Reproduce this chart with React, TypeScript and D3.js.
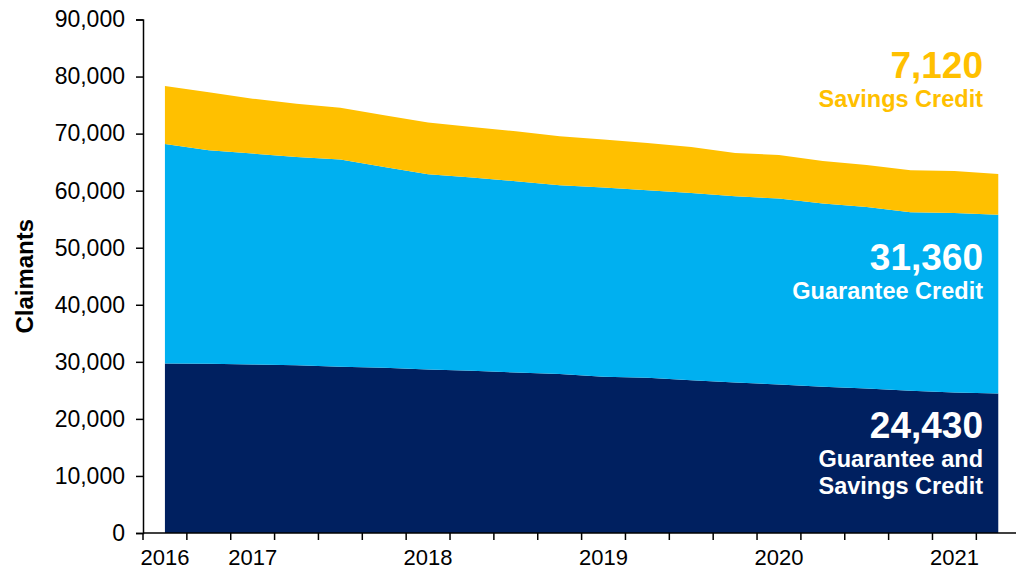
import React, { useEffect, useRef } from 'react';
import * as d3 from 'd3';

// quarterly points, only some carry a year label
const tickLabels = ['2016', '', '2017', '', '', '', '2018', '', '', '', '2019', '', '', '', '2020', '', '', '', '2021', ''];

const bothCredits = [29720, 29650, 29540, 29420, 29120, 28950, 28670, 28420, 28140, 27850, 27370, 27200, 26790, 26390, 26040, 25620, 25340, 24920, 24640, 24430];
const guaranteeCredit = [38460, 37430, 36960, 36480, 36330, 35200, 34200, 33870, 33510, 33100, 33170, 32870, 32810, 32630, 32580, 32120, 31810, 31300, 31450, 31360];
const savingsCredit = [10160, 10150, 9630, 9350, 9100, 9050, 9060, 8870, 8750, 8580, 8410, 8280, 8050, 7580, 7630, 7460, 7350, 7350, 7360, 7120];

const seriesKeys = ['both', 'guarantee', 'savings'];
const seriesColors = ['#002060', '#00B0F0', '#FFC000'];
const yTicks = [0, 10000, 20000, 30000, 40000, 50000, 60000, 70000, 80000, 90000];

const W = 1016;
const H = 571;
const margin = { top: 19.5, left: 143, bottom: 38 };
const font = 'Liberation Sans, Arial, sans-serif';

const App = () => {
  const svgRef = useRef<SVGSVGElement>(null);

  useEffect(() => {
    const svg = d3.select(svgRef.current);
    svg.selectAll('*').remove();

    const rows = tickLabels.map((_, i) => ({
      i,
      both: bothCredits[i],
      guarantee: guaranteeCredit[i],
      savings: savingsCredit[i],
    }));

    const step = 43.86;
    const x = d3.scaleBand<number>()
      .domain(rows.map(d => d.i))
      .range([margin.left, margin.left + step * rows.length])
      .padding(0);
    const y = d3.scaleLinear().domain([0, 90000]).range([H - margin.bottom, margin.top]);
    const cx = (i: number) => (x(i) as number) + x.bandwidth() / 2;

    const stacked = d3.stack<any>().keys(seriesKeys)(rows);
    const area = d3.area<any>()
      .x(d => cx(d.data.i))
      .y0(d => y(d[0]))
      .y1(d => y(d[1]));

    svg.append('g')
      .selectAll('path')
      .data(stacked)
      .join('path')
      .attr('d', area)
      .attr('fill', (_, k) => seriesColors[k]);

    // y axis
    const yAxis = d3.axisLeft(y)
      .tickValues(yTicks)
      .tickSize(7)
      .tickPadding(11)
      .tickFormat(d3.format(','));
    const yG = svg.append('g')
      .attr('transform', `translate(${margin.left},0)`)
      .call(yAxis);
    yG.select('.domain').attr('stroke', '#000').attr('stroke-width', 1.5);
    yG.selectAll('.tick line').attr('stroke', '#000').attr('stroke-width', 1.5);
    yG.selectAll('.tick text')
      .attr('font-family', font)
      .attr('font-size', 23)
      .attr('fill', '#000');

    // x axis: ticks on category borders, year labels in the middle
    const xG = svg.append('g').attr('transform', `translate(0,${y(0)})`);
    xG.append('line')
      .attr('x1', margin.left)
      .attr('x2', margin.left + step * rows.length)
      .attr('stroke', '#000')
      .attr('stroke-width', 1.5);
    xG.selectAll('.xtick')
      .data(d3.range(rows.length + 1))
      .join('line')
      .attr('class', 'xtick')
      .attr('x1', i => (i < rows.length ? (x(i) as number) : margin.left + step * rows.length))
      .attr('x2', i => (i < rows.length ? (x(i) as number) : margin.left + step * rows.length))
      .attr('y1', 0)
      .attr('y2', 7)
      .attr('stroke', '#000')
      .attr('stroke-width', 1.5);
    xG.selectAll('.xlabel')
      .data(rows.filter(d => tickLabels[d.i] !== ''))
      .join('text')
      .attr('class', 'xlabel')
      .attr('x', d => cx(d.i))
      .attr('y', 32)
      .attr('text-anchor', 'middle')
      .attr('font-family', font)
      .attr('font-size', 22)
      .attr('fill', '#000')
      .text(d => tickLabels[d.i]);

    svg.append('text')
      .attr('transform', `translate(33,${y(45000)}) rotate(-90)`)
      .attr('text-anchor', 'middle')
      .attr('font-family', font)
      .attr('font-weight', 'bold')
      .attr('font-size', 24)
      .attr('fill', '#000')
      .text('Claimants');

    // end-of-series annotations
    const last = rows.length - 1;
    const notes = [
      { value: savingsCredit[last], lines: ['Savings Credit'], color: '#FFC000', y: 78 },
      { value: guaranteeCredit[last], lines: ['Guarantee Credit'], color: '#fff', y: 270 },
      { value: bothCredits[last], lines: ['Guarantee and', 'Savings Credit'], color: '#fff', y: 438 },
    ];
    const noteG = svg.append('g');
    notes.forEach(n => {
      noteG.append('text')
        .attr('x', 983)
        .attr('y', n.y)
        .attr('text-anchor', 'end')
        .attr('font-family', font)
        .attr('font-weight', 'bold')
        .attr('font-size', 37)
        .attr('fill', n.color)
        .text(d3.format(',')(n.value));
      n.lines.forEach((t, j) => {
        noteG.append('text')
          .attr('x', 983)
          .attr('y', n.y + 29 + j * 27)
          .attr('text-anchor', 'end')
          .attr('font-family', font)
          .attr('font-weight', 'bold')
          .attr('font-size', 23.5)
          .attr('fill', n.color)
          .text(t);
      });
    });
  }, []);

  return (
    <svg
      ref={svgRef}
      width={W}
      height={H}
      style={{ position: 'absolute', left: 0, top: 0, background: '#fff' }}
    />
  );
};

export default App;
